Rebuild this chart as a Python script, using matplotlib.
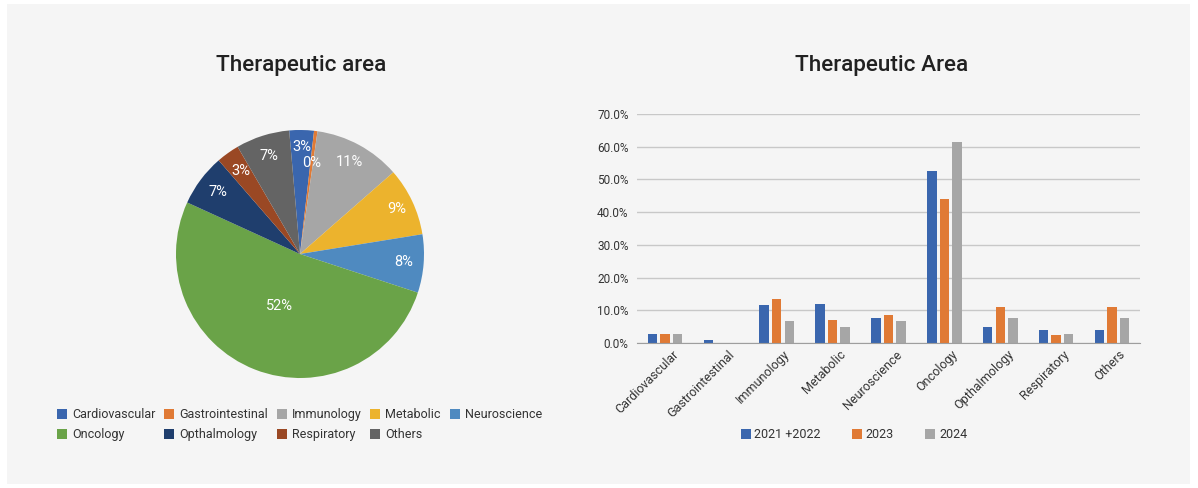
import matplotlib
matplotlib.use("Agg")
import matplotlib.pyplot as plt
import numpy as np
from matplotlib.patches import Rectangle
from matplotlib.ticker import FuncFormatter

plt.rcParams["font.family"] = ["Roboto", "DejaVu Sans"]

# --- данные ---
areas = ["Cardiovascular", "Gastrointestinal", "Immunology", "Metabolic", "Neuroscience",
         "Oncology", "Opthalmology", "Respiratory", "Others"]
pie_share = [3.2, 0.45, 11.3, 8.9, 7.6, 51.8, 6.8, 3.0, 7.0]

years = ["2021 +2022", "2023", "2024"]
share_2122 = [2.8, 1.0, 11.5, 11.9, 7.6, 52.7, 4.9, 4.0, 4.0]
share_2023 = [2.8, 0.0, 13.6, 7.0, 8.5, 44.0, 11.1, 2.4, 11.1]
share_2024 = [2.8, 0.0, 6.6, 5.0, 6.6, 61.3, 7.6, 2.6, 7.6]

pie_colors = ["#3a66ae", "#e07a35", "#a6a6a6", "#ecb32d", "#4f8ac0",
              "#6aa348", "#1f3e6d", "#9a4824", "#646464"]
bar_colors = ["#3a66ae", "#e07a35", "#a6a6a6"]

W, H = 1198, 488
fig = plt.figure(figsize=(W / 100, H / 100), dpi=100, facecolor="white")
fig.patches.append(Rectangle((7 / W, 4 / H), 1183 / W, 480 / H, transform=fig.transFigure,
                             facecolor="#f5f5f5", edgecolor="none", zorder=-10))

# --- круговая диаграмма ---
ax_pie = fig.add_axes([176 / W, (H - 378) / H, 248 / W, 248 / H])
wedges, _ = ax_pie.pie(pie_share, colors=pie_colors, startangle=95, counterclock=False,
                       wedgeprops=dict(linewidth=0))
ax_pie.set_xlim(-1, 1)
ax_pie.set_ylim(-1, 1)
ax_pie.set_aspect("equal")
total = sum(pie_share)
label_r = [0.86, 0.74, 0.84, 0.86, 0.84, 0.45, 0.83, 0.82, 0.83]
for w, v, r in zip(wedges, pie_share, label_r):
    ang = np.deg2rad((w.theta1 + w.theta2) / 2)
    ax_pie.text(r * np.cos(ang), r * np.sin(ang), f"{100 * v / total:.0f}%",
                ha="center", va="center", color="white", fontsize=10.5)
fig.text(301 / W, 1 - 66 / H, "Therapeutic area", ha="center", va="center",
         fontsize=16.2, fontweight="medium", color="#212121")

order = [0, 5, 1, 6, 2, 7, 3, 8, 4]
fig.legend([wedges[i] for i in order], [areas[i] for i in order], ncol=5,
           loc="upper left", bbox_to_anchor=(46 / W, 1 - 397 / H), frameon=False,
           fontsize=9, handlelength=0.8, handleheight=0.8, handletextpad=0.4,
           columnspacing=0.7, labelspacing=0.55, labelcolor="#333333")

# --- столбчатая диаграмма ---
ax_bar = fig.add_axes([637 / W, (H - 343) / H, 503 / W, 229 / H])
ax_bar.set_facecolor("none")
x = np.arange(len(areas))
bw, step = 0.17, 0.225
for k, (vals, col, name) in enumerate(zip([share_2122, share_2023, share_2024], bar_colors, years)):
    ax_bar.bar(x + (k - 1) * step, vals, width=bw, color=col, label=name, zorder=3)
ax_bar.set_xlim(-0.5, len(areas) - 0.5)
ax_bar.set_ylim(0, 70)
ax_bar.set_yticks(np.arange(0, 71, 10))
ax_bar.yaxis.set_major_formatter(FuncFormatter(lambda v, _: f"{v:.1f}%"))
ax_bar.grid(axis="y", color="#c8c8c8", linewidth=1, zorder=0)
for s in ["top", "right", "left"]:
    ax_bar.spines[s].set_visible(False)
ax_bar.spines["bottom"].set_color("#9e9e9e")
ax_bar.spines["bottom"].set_zorder(4)
ax_bar.tick_params(axis="both", length=0, labelsize=8.5, labelcolor="#333333")
ax_bar.tick_params(axis="x", labelsize=9)
ax_bar.tick_params(axis="y", pad=6)
ax_bar.set_xticks(x + 0.12)
ax_bar.set_xticklabels(areas, rotation=45, ha="right", rotation_mode="anchor")
fig.text(882 / W, 1 - 66 / H, "Therapeutic Area", ha="center", va="center",
         fontsize=16.2, fontweight="medium", color="#212121")
fig.legend(*ax_bar.get_legend_handles_labels(), ncol=3, loc="center",
           bbox_to_anchor=(854 / W, 1 - 435 / H), frameon=False, fontsize=9,
           handlelength=0.8, handleheight=0.8, handletextpad=0.3, columnspacing=2.5,
           labelcolor="#333333")

fig.savefig("out.png", dpi=100, facecolor="white")
